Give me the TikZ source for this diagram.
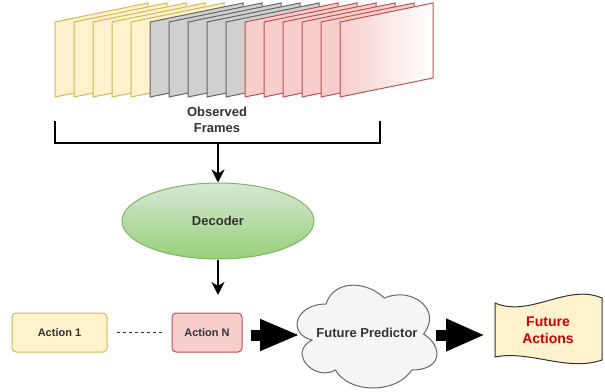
\documentclass[tikz,border=0pt]{standalone}
\usepackage{fontspec}
\setmainfont{Liberation Sans}
\usetikzlibrary{shapes.geometric,arrows.meta}
\definecolor{yfill}{HTML}{FFF2CC}
\definecolor{ydraw}{HTML}{D6B656}
\definecolor{gfill}{HTML}{D0D0D0}
\definecolor{gdraw}{HTML}{666666}
\definecolor{rfill}{HTML}{F8CECC}
\definecolor{rdraw}{HTML}{B85450}
\definecolor{txt}{HTML}{333333}
\definecolor{grA}{HTML}{D5E8D4}
\definecolor{grB}{HTML}{97D077}
\definecolor{grD}{HTML}{82B366}
\definecolor{cfill}{HTML}{F5F5F5}
\definecolor{cdraw}{HTML}{666666}
\definecolor{fared}{HTML}{CC0000}
\tikzset{
  frame/.style={line width=1pt, line join=miter},
  lbl/.style={text=txt, font=\fontsize{13}{16}\selectfont\bfseries, align=center, inner sep=0pt},
  actbox/.style={rounded corners=4pt, line width=1pt, minimum height=39pt, inner sep=0pt, text=txt, font=\fontsize{11}{13}\selectfont\bfseries},
  thinarrow/.style={line width=2pt, -{Stealth[length=13pt,width=13pt,inset=4pt]}},
  bigarrow/.style={line width=11pt, -{Triangle[length=40pt,width=29pt]}},
}
\begin{document}
\begin{tikzpicture}[x=1pt,y=-1pt]
\useasboundingbox (0,0) rectangle (605,391);
% frames
\foreach \i/\f/\d in {0/yfill/ydraw,1/yfill/ydraw,2/yfill/ydraw,3/yfill/ydraw,4/yfill/ydraw,
                      5/gfill/gdraw,6/gfill/gdraw,7/gfill/gdraw,8/gfill/gdraw,9/gfill/gdraw,
                      10/rfill/rdraw,11/rfill/rdraw,12/rfill/rdraw,13/rfill/rdraw,14/rfill/rdraw}{
  \draw[frame, draw=\d, fill=\f] (55+19*\i,22) -- ++(93,-19) -- ++(0,75) -- ++(-93,19) -- cycle;
}
\draw[frame, draw=rdraw, left color=rfill, right color=white] (340,22) -- ++(93,-19) -- ++(0,75) -- ++(-93,19) -- cycle;
% label
\node[lbl] (obs) at (217,120) {Observed\\Frames};
% bracket
\coordinate (bl) at (55,121);
\coordinate (br) at (380,121);
\coordinate (bm) at (218,143);
\draw[line width=2pt] (bl) -- (bl |- bm) -- (br |- bm) -- (br);
% decoder
\node[ellipse, minimum width=192pt, minimum height=76pt, inner sep=0pt, draw=grD, line width=1pt,
      top color=grA, bottom color=grB, text=txt, font=\fontsize{13}{16}\selectfont\bfseries] (dec) at (218,221) {Decoder};
\draw[thinarrow] (bm) -- (dec.north);
\coordinate (dend) at (218,295);
\draw[thinarrow] (dec.south) -- (dend);
% actions
\node[actbox, draw=ydraw, fill=yfill, minimum width=95pt] (a1) at (59.5,332.5) {Action 1};
\node[actbox, draw=rdraw, fill=rfill, minimum width=70pt] (an) at (207,332.5) {Action N};
\draw[txt, line width=1pt, dash pattern=on 3pt off 3pt] ([xshift=9pt]a1.east) -- ([xshift=-7pt]an.west);
% cloud
\draw[draw=cdraw, fill=cfill, line width=1pt]
  (326,304) .. controls (294.8,304) and (287,334) .. (311.96,340)
  .. controls (287,353.2) and (315.08,382) .. (335.36,370)
  .. controls (349.4,394) and (396.2,394) .. (411.8,370)
  .. controls (443,370) and (443,346) .. (423.5,334)
  .. controls (443,310) and (411.8,286) .. (384.5,298)
  .. controls (365,280) and (333.8,280) .. (326,304) -- cycle;
\node[lbl] (fp) at (367,333) {Future Predictor};
\coordinate (cpw) at (300,335);
\coordinate (cpe) at (436,335);
% tape
\draw[draw=txt, fill=yfill, line width=1pt]
  (495,303) .. controls (530,318) and (567,283) .. (602,298)
  -- (602,360) .. controls (567,372) and (530,350) .. (495,357) -- cycle;
\node[lbl, text=fared, font=\fontsize{14}{17}\selectfont\bfseries] (fa) at (548,330.5) {Future\\Actions};
\coordinate (tw) at (485,335);
% block arrows
\draw[bigarrow] ([xshift=8pt]an.east |- cpw) -- (cpw);
\draw[bigarrow, -{Triangle[length=39pt,width=30pt]}] (cpe) -- (tw);
\end{tikzpicture}
\end{document}
